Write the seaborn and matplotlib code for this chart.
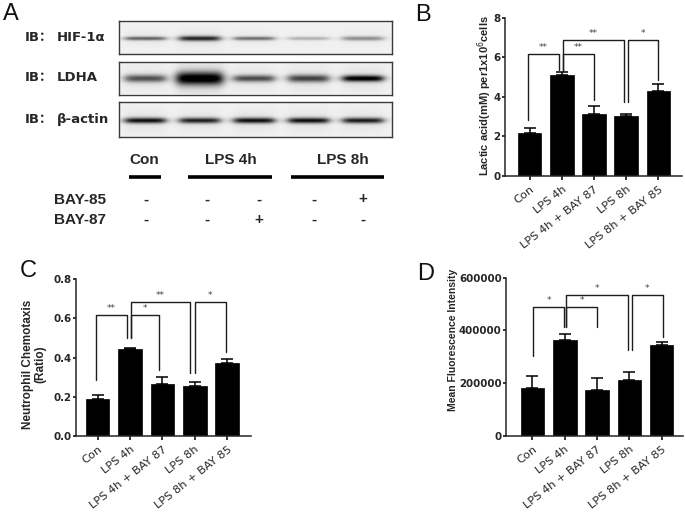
import numpy as np
import pandas as pd
import matplotlib
matplotlib.use("Agg")
import matplotlib.pyplot as plt
import seaborn as sns

# ---------------- data ----------------
groups = ["Con", "LPS 4h", "LPS 4h + BAY 87", "LPS 8h", "LPS 8h + BAY 85"]

lactate_mean = [2.19, 5.10, 3.15, 3.05, 4.29]
lactate_sem = [0.22, 0.14, 0.40, 0.08, 0.34]

chemotaxis_mean = [0.188, 0.441, 0.265, 0.256, 0.374]
chemotaxis_sem = [0.020, 0.008, 0.037, 0.017, 0.017]

mfi_mean = [180000, 363000, 175000, 213000, 343000]
mfi_sem = [46000, 23000, 43000, 30000, 14000]

sig_pairs = [(0, 1), (1, 2), (1, 3), (3, 4)]
lactate_sig = ["**", "**", "**", "*"]
chemotaxis_sig = ["**", "*", "**", "*"]
mfi_sig = ["*", "*", "*", "*"]

# western blot: relative band density per lane
blot_proteins = ["HIF-1α", "LDHA", "β-actin"]
hif1a_band = [0.55, 0.78, 0.50, 0.25, 0.38]
ldha_band = [0.60, 1.00, 0.62, 0.66, 0.95]
actin_band = [0.85, 0.78, 0.85, 0.85, 0.80]
treat_groups = ["Con", "LPS 4h", "LPS 8h"]
bay85 = ["-", "-", "-", "-", "+"]
bay87 = ["-", "-", "+", "-", "-"]

# ---------------- style ----------------
sns.set_theme(style="ticks")
plt.rcParams["font.family"] = ["DejaVu Sans"]
plt.rcParams["axes.linewidth"] = 1.1

W, H = 685, 522
fig = plt.figure(figsize=(W / 100, H / 100), dpi=100)
fig.patch.set_facecolor("white")


def px_axes(x0, y0, x1, y1, **kw):
    return fig.add_axes([x0 / W, 1 - y1 / H, (x1 - x0) / W, (y1 - y0) / H], **kw)


# overlay for panel A annotations / letters (pixel coordinates)
ov = px_axes(0, 0, W, H)
ov.set_xlim(0, W)
ov.set_ylim(H, 0)
ov.axis("off")

ARIAL = ["Liberation Sans", "DejaVu Sans"]


def bar_panel(ax, means, sems, xlim, ylim, yticks, yticklabels, ylabel, ylsize,
              ylpos, brk, stars):
    df = pd.DataFrame({"group": groups, "value": means})
    sns.barplot(data=df, x="group", y="value", order=groups, color="black",
                saturation=1, width=0.73, errorbar=None, edgecolor="black",
                linewidth=0.5, ax=ax)
    ax.errorbar(np.arange(len(groups)), means,
                yerr=[np.zeros(len(groups)), sems], fmt="none", ecolor="black",
                elinewidth=1.1, capsize=4, capthick=1.1, zorder=3)
    ax.set_xlim(*xlim)
    ax.set_ylim(*ylim)
    ax.set_yticks(yticks)
    ax.set_yticklabels(yticklabels, fontsize=7.4, fontweight="bold")
    ax.set_xticks(range(len(groups)))
    ax.set_xticklabels(groups, fontsize=8.2, rotation=38, ha="right",
                       va="top", rotation_mode="anchor")
    ax.tick_params(axis="y", direction="out", length=2.3, width=1.1,
                   pad=0.8, color="black")
    ax.tick_params(axis="x", direction="out", length=3.0, width=1.1,
                   pad=3, color="black")
    sns.despine(ax=ax)
    ax.set_facecolor("none")
    ax.set_xlabel("")
    ax.set_ylabel(ylabel, fontsize=ylsize, fontweight="bold", family=ARIAL,
                  va="center", ha="center", linespacing=1.1)
    ax.yaxis.set_label_coords(*ylpos)
    tops, lbot, rbot, loff, roff = brk
    for k, (i, j) in enumerate(sig_pairs):
        xl, xr = i + loff[k], j + roff[k]
        ax.plot([xl, xl, xr, xr], [lbot[k], tops[k], tops[k], rbot[k]],
                color="#1e1e1e", lw=1.0, clip_on=False, zorder=4)
        ax.text((xl + xr) / 2, tops[k] + (ylim[1] - ylim[0]) * 0.012, stars[k],
                ha="center", va="bottom", fontsize=6.5, color="#444444")


# ---------------- panel B ----------------
axB = px_axes(505, 17.7, 681.7, 176)
bar_panel(axB, lactate_mean, lactate_sem, (-0.77, 4.73), (0, 8),
          [0, 2, 4, 6, 8], ["0", "2", "4", "6", "8"],
          "Lactic acid(mM) per1x10$^{6}$cells", 8.0,
          ((485 - 505) / 176.7, (176 - 96) / 158.3),
          ([6.15, 6.15, 6.86, 6.86],
           [2.83, 5.30, 5.30, 3.72],
           [5.35, 3.84, 3.72, 4.85],
           [-0.06, 0.05, 0.05, 0.07],
           [-0.08, 0.0, -0.08, 0.0]),
          lactate_sig)

# ---------------- panel C ----------------
axC = px_axes(75.5, 279.3, 251, 435.7)
bar_panel(axC, chemotaxis_mean, chemotaxis_sem, (-0.68, 4.73), (0, 0.8),
          [0, 0.2, 0.4, 0.6, 0.8], ["0.0", "0.2", "0.4", "0.6", "0.8"],
          "Neutrophil Chemotaxis\n(Ratio)", 8.5,
          ((34 - 75.5) / 175.5, (435.7 - 364.5) / 156.4),
          ([0.618, 0.618, 0.686, 0.686],
           [0.285, 0.498, 0.498, 0.319],
           [0.498, 0.336, 0.319, 0.430],
           [-0.05, 0.03, 0.03, 0.0],
           [-0.10, -0.10, -0.14, -0.05]),
          chemotaxis_sig)

# ---------------- panel D ----------------
axD = px_axes(506, 277.7, 683, 435.7)
bar_panel(axD, mfi_mean, mfi_sem, (-0.82, 4.66), (0, 600000),
          [0, 200000, 400000, 600000], ["0", "200000", "400000", "600000"],
          "Mean Fluorescence Intensity", 7.5,
          ((453 - 506) / 177.0, (435.7 - 340) / 158.0),
          ([490000, 490000, 535000, 535000],
           [303000, 414000, 414000, 327000],
           [414000, 412000, 327000, 375000],
           [0.03, 0.05, 0.05, 0.07],
           [-0.03, 0.0, -0.03, 0.03]),
          mfi_sig)

# ---------------- panel A: western blot ----------------
LANE_X0, LANE_X1 = -0.48, 4.53
band_sigma = {"HIF-1α": [1.2, 1.6, 1.2, 1.1, 1.4],
              "LDHA": [2.4, 4.2, 2.2, 2.4, 2.0],
              "β-actin": [1.8, 1.8, 1.8, 1.8, 1.8]}
strip_px = [(21, 54), (62, 94.5), (102, 137)]
densities = [hif1a_band, ldha_band, actin_band]

for prot, (y0, y1), dens in zip(blot_proteins, strip_px, densities):
    ax = px_axes(119, y0, 392, y1)
    hgt = y1 - y0
    xs = np.linspace(LANE_X0, LANE_X1, 600)
    ys = np.linspace(0, hgt, int(hgt * 3))
    X, Y = np.meshgrid(xs, ys)
    dark = np.full_like(X, 0.055)
    yc = hgt * 0.53
    for lane, (a, s) in enumerate(zip(dens, band_sigma[prot])):
        hw = 0.37 if s < 3 else 0.42
        hx = 1 / (1 + np.exp((np.abs(X - lane) - hw) / 0.05))
        vy = np.exp(-0.5 * ((Y - yc) / (s * 1.1)) ** 2)
        dark += a * hx * vy
        # faint smear around band
        dark += 0.07 * a * hx * np.exp(-0.5 * ((Y - yc) / (s * 4)) ** 2)
    dark = np.clip(dark, 0, 1)
    ax.imshow(dark, cmap="gray_r", vmin=0, vmax=1, aspect="auto",
              extent=(LANE_X0, LANE_X1, hgt, 0), interpolation="bilinear")
    ax.set_xlim(LANE_X0, LANE_X1)
    ax.set_ylim(hgt, 0)
    ax.set_xticks([])
    ax.set_yticks([])
    for sp in ax.spines.values():
        sp.set_color("#3a3a3a")
        sp.set_linewidth(1.0)
    ov.text(25, (y0 + y1) / 2 + 3.2, "IB：", ha="left", va="baseline",
            fontsize=9.5, fontweight="bold",
            family=["DejaVu Sans", "Noto Sans CJK SC"])
    ov.text(57, (y0 + y1) / 2 + 3.2, prot, ha="left", va="baseline",
            fontsize=9.5, fontweight="bold", family=["DejaVu Sans"])

# group headers with underline
grp_cx = [144, 231, 342.5]
grp_line = [(129, 161), (188, 272), (291, 384)]
for name, cx, (a, b) in zip(treat_groups, grp_cx, grp_line):
    ov.text(cx, 164, name, ha="center", va="baseline", fontsize=11,
            fontweight="bold", family=ARIAL)
    ov.plot([a, b], [177, 177], color="black", lw=2.6, solid_capstyle="butt")

sign_x = [146, 207, 259, 314, 363]
ov.text(54, 203.5, "BAY-85", ha="left", va="baseline", fontsize=11,
        fontweight="bold", family=ARIAL)
ov.text(54, 224, "BAY-87", ha="left", va="baseline", fontsize=11,
        fontweight="bold", family=ARIAL)
for sx, s85, s87 in zip(sign_x, bay85, bay87):
    ov.text(sx, 203.5, s85, ha="center", va="baseline", fontsize=11,
            fontweight="bold", family=ARIAL)
    ov.text(sx, 224, s87, ha="center", va="baseline", fontsize=11,
            fontweight="bold", family=ARIAL)

# panel letters
for letter, (lx, ly) in zip("ABCD", [(3, 20), (415, 21), (20, 277), (417, 280)]):
    ov.text(lx, ly, letter, ha="left", va="baseline", fontsize=17,
            family=ARIAL, color="#111111")

fig.savefig("out.png", dpi=100, facecolor="white")
